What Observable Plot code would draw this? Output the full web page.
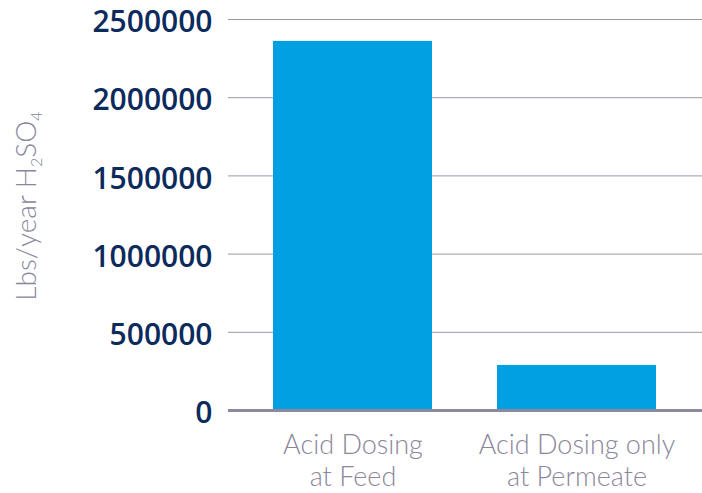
<!DOCTYPE html>
<html>
<head>
<meta charset="utf-8">
<script src="https://cdn.jsdelivr.net/npm/d3@7"></script>
<script src="https://cdn.jsdelivr.net/npm/@observablehq/plot@0.6"></script>
<style>
  html, body { margin: 0; padding: 0; background: #fff; }
  #chart { width: 702px; height: 493px; }
</style>
</head>
<body>
<div id="chart"></div>
<script>
const categories = ["Acid Dosing at Feed", "Acid Dosing only at Permeate"];
const categoryLabels = ["Acid Dosing\nat Feed", "Acid Dosing only\nat Permeate"];
const values = [2360000, 288000];
const yTicks = [0, 500000, 1000000, 1500000, 2000000, 2500000];

const data = categories.map((c, i) => ({category: c, value: values[i]}));
const labelOf = new Map(categories.map((c, i) => [c, categoryLabels[i]]));

const plot = Plot.plot({
  width: 702,
  height: 493,
  marginLeft: 228,
  marginRight: 0,
  marginTop: 19,
  marginBottom: 83,
  style: {background: "#fff", overflow: "visible"},
  x: {domain: categories, paddingInner: 0.29, paddingOuter: 0.2, label: null},
  y: {domain: [0, 2500000], label: null},
  marks: [
    Plot.ruleY(yTicks.filter(d => d > 0), {stroke: "#9a97aa", strokeWidth: 1}),
    Plot.barY(data, {x: "category", y: "value", fill: "#00a0e2"}),
    Plot.ruleY([0], {stroke: "#8d899c", strokeWidth: 3}),
    Plot.axisY({
      ticks: yTicks,
      tickSize: 0,
      tickPadding: 16,
      tickFormat: d => String(d),
      label: null,
      fill: "#0c2b5c",
      fontSize: 30,
      fontWeight: 600,
      fontFamily: "Open Sans",
      dy: 3
    }),
    Plot.axisX({
      tickSize: 0,
      tickPadding: 21,
      tickFormat: d => labelOf.get(d),
      label: null,
      fill: "#8a879b",
      fontSize: 27,
      fontWeight: 300,
      fontFamily: "Lato",
      lineHeight: 1.18
    })
  ]
});

const svg = d3.select(plot);
const t = svg.append("text")
  .attr("transform", "translate(36,206) rotate(-90)")
  .attr("text-anchor", "middle")
  .attr("fill", "#8a879b")
  .attr("font-family", "Lato")
  .attr("font-weight", 300)
  .attr("font-size", 28);
t.append("tspan").text("Lbs/year H");
t.append("tspan").attr("font-size", 16).attr("dy", 6).text("2");
t.append("tspan").attr("dy", -6).text("SO");
t.append("tspan").attr("font-size", 16).attr("dy", 6).text("4");

document.getElementById("chart").appendChild(plot);
</script>
</body>
</html>
